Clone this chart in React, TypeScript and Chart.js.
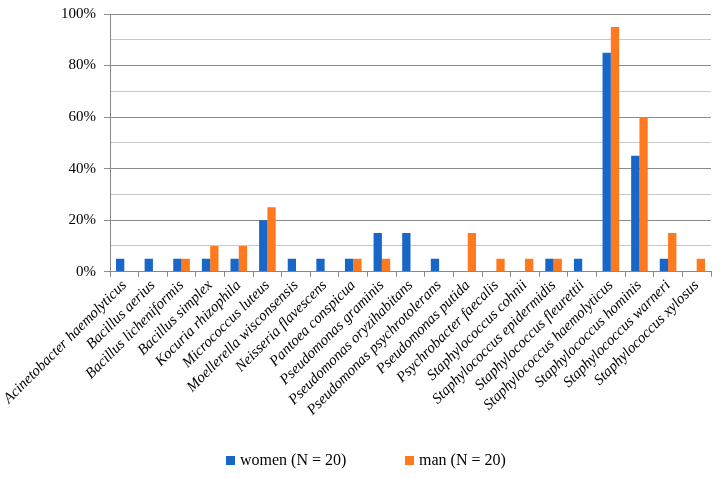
import React, { useEffect, useRef } from "react";
import { Chart, registerables } from "chart.js";

Chart.register(...registerables);

const categories = [
  "Acinetobacter haemolyticus",
  "Bacillus aerius",
  "Bacillus licheniformis",
  "Bacillus simplex",
  "Kocuria rhizophila",
  "Micrococcus luteus",
  "Moellerella wisconsensis",
  "Neisseria flavescens",
  "Pantoea conspicua",
  "Pseudomonas graminis",
  "Pseudomonas oryzihabitans",
  "Pseudomonas psychrotolerans",
  "Pseudomonas putida",
  "Psychrobacter faecalis",
  "Staphylococcus cohnii",
  "Staphylococcus epidermidis",
  "Staphylococcus fleurettii",
  "Staphylococcus haemolyticus",
  "Staphylococcus hominis",
  "Staphylococcus warneri",
  "Staphylococcus xylosus",
];

const women = [5, 5, 5, 5, 5, 20, 5, 5, 5, 15, 15, 5, 0, 0, 0, 5, 5, 85, 45, 5, 0];
const man = [0, 0, 5, 10, 10, 25, 0, 0, 5, 5, 0, 0, 15, 5, 5, 5, 0, 95, 60, 15, 5];

const seriesLabels = ["women (N = 20)", "man (N = 20)"];
const seriesColors = ["#1866C8", "#FF7A1F"];

const FONT = "'Liberation Serif', 'Times New Roman', serif";

const legendPlugin = {
  id: "bottomLegend",
  afterDraw(chart: any) {
    const ctx = chart.ctx;
    const starts = [226, 405];
    const y = 461;
    ctx.save();
    ctx.font = "16px " + FONT;
    ctx.textBaseline = "middle";
    ctx.textAlign = "left";
    seriesLabels.forEach((lab, i) => {
      ctx.fillStyle = seriesColors[i];
      ctx.fillRect(starts[i], y - 5, 9, 9);
      ctx.fillStyle = "#000";
      ctx.fillText(lab, starts[i] + 14, y);
    });
    ctx.restore();
  },
};

export default function App() {
  const ref = useRef<HTMLCanvasElement | null>(null);

  useEffect(() => {
    if (!ref.current) return;
    const chart = new Chart(ref.current, {
      type: "bar",
      data: {
        labels: categories,
        datasets: [
          {
            label: seriesLabels[0],
            data: women,
            backgroundColor: seriesColors[0],
            barPercentage: 1,
            categoryPercentage: 0.58,
          },
          {
            label: seriesLabels[1],
            data: man,
            backgroundColor: seriesColors[1],
            barPercentage: 1,
            categoryPercentage: 0.58,
          },
        ],
      },
      plugins: [legendPlugin],
      options: {
        animation: false,
        responsive: false,
        maintainAspectRatio: false,
        layout: { padding: { top: 6, right: 10, left: 14, bottom: 59 } },
        plugins: {
          tooltip: { enabled: false },
          legend: { display: false },
        },
        scales: {
          x: {
            grid: {
              display: true,
              drawOnChartArea: false,
              offset: true,
              tickLength: 5,
              color: "#888",
            },
            border: { color: "#888" },
            ticks: {
              minRotation: 45,
              maxRotation: 45,
              autoSkip: false,
              color: "#000",
              padding: 0,
              font: { family: FONT, size: 15, style: "italic" },
            },
          },
          y: {
            min: 0,
            max: 100,
            afterFit: (scale: any) => {
              scale.width = 96;
            },
            grid: {
              color: (ctx: any) =>
                ctx.tick && ctx.tick.value % 20 === 0 ? "#8c8c8c" : "#c8c8c8",
              tickColor: (ctx: any) =>
                ctx.tick && ctx.tick.value % 20 === 0 ? "#8c8c8c" : "rgba(0,0,0,0)",
              tickLength: 6,
            },
            border: { color: "#888" },
            ticks: {
              stepSize: 5,
              color: "#000",
              padding: 8,
              font: { family: FONT, size: 15, lineHeight: 0.8 },
              callback: (v: any) => (Number(v) % 20 === 0 ? v + "%" : ""),
            },
          },
        },
      },
    });
    return () => chart.destroy();
  }, []);

  return (
    <div
      style={{
        position: "fixed",
        left: 0,
        top: 0,
        width: 721,
        height: 478,
        background: "#fff",
      }}
    >
      <canvas ref={ref} width={721} height={478} style={{ display: "block" }} />
    </div>
  );
}
